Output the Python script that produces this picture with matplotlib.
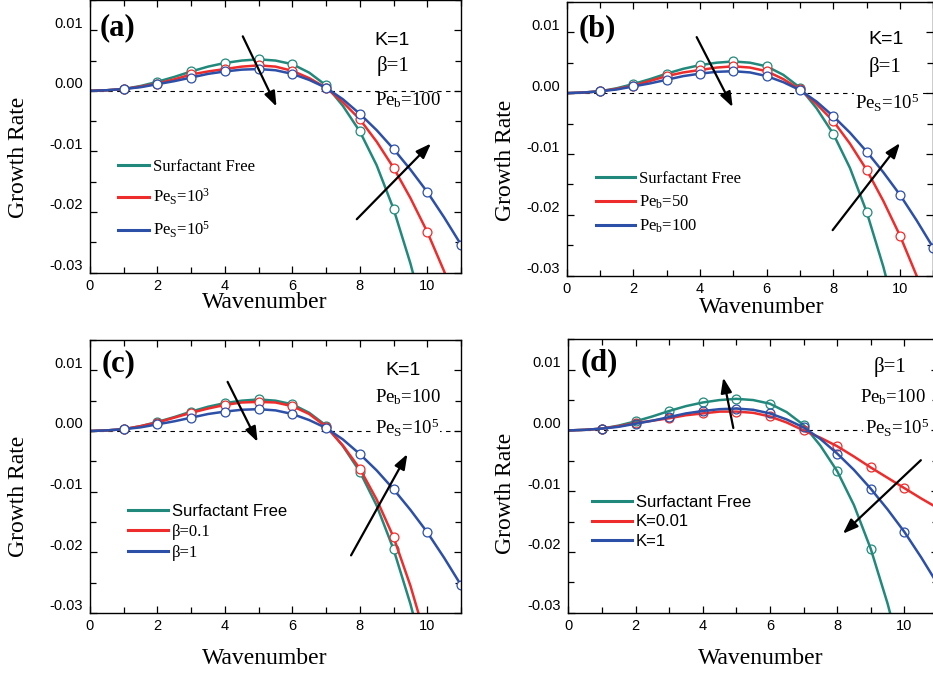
import numpy as np
import matplotlib.pyplot as plt
from matplotlib.lines import Line2D
from matplotlib.ticker import MultipleLocator
from matplotlib.transforms import ScaledTranslation

plt.rcParams['font.family'] = 'Liberation Sans'
plt.rcParams['mathtext.default'] = 'regular'

SERIF = 'Liberation Serif'
SANS = 'Liberation Sans'

# wavenumber grid (values every 0.5)
k = [0, 0.5, 1, 1.5, 2, 2.5, 3, 3.5, 4, 4.5, 5, 5.5, 6, 6.5, 7, 7.5, 8, 8.5,
     9, 9.5, 10, 10.5, 11]

# surfactant free (same in every panel)
free = [0, 0.0001, 0.0003, 0.0008, 0.0015, 0.0023, 0.0032, 0.0040, 0.0046,
        0.0050, 0.0052, 0.0050, 0.0044, 0.0030, 0.0009, -0.0025, -0.0067,
        -0.0123, -0.0195, -0.0285, -0.0390, -0.0510, -0.0640]
# K=1, beta=1, Pe_b=100, Pe_s=1e5 (same in every panel)
base = [0, 0.0001, 0.0003, 0.0006, 0.0011, 0.0016, 0.0022, 0.0028, 0.0032,
        0.0035, 0.0036, 0.0034, 0.0028, 0.0018, 0.0005, -0.0014, -0.0038,
        -0.0065, -0.0096, -0.0130, -0.0167, -0.0209, -0.0254]
# (a) Pe_s = 1e3
red_a = [0, 0.0001, 0.0003, 0.0007, 0.0012, 0.0019, 0.0027, 0.0032, 0.0036,
         0.0040, 0.0042, 0.0040, 0.0033, 0.0021, 0.0005, -0.0019, -0.0047,
         -0.0084, -0.0127, -0.0177, -0.0233, -0.0298, -0.0370]
# (b) Pe_b = 50
red_b = [0, 0.0001, 0.0003, 0.0007, 0.0012, 0.0020, 0.0028, 0.0034, 0.0038,
         0.0042, 0.0044, 0.0042, 0.0036, 0.0023, 0.0006, -0.0018, -0.0046,
         -0.0083, -0.0126, -0.0177, -0.0234, -0.0300, -0.0372]
# (c) beta = 0.1
red_c = [0, 0.0001, 0.0003, 0.0008, 0.0014, 0.0022, 0.0030, 0.0037, 0.0043,
         0.0047, 0.0048, 0.0047, 0.0041, 0.0028, 0.0007, -0.0024, -0.0062,
         -0.0113, -0.0175, -0.0255, -0.0350, -0.0460, -0.0580]
# (d) K = 0.01
red_d = [0, 0.0001, 0.0003, 0.0007, 0.0012, 0.0016, 0.0020, 0.0025, 0.0028,
         0.0031, 0.0031, 0.0029, 0.0023, 0.0013, 0.0000, -0.0012, -0.0026,
         -0.0043, -0.0061, -0.0078, -0.0095, -0.0112, -0.0128]

yticks = [-0.03, -0.02, -0.01, 0.0, 0.01]
ytick_labels = ['-0.03', '-0.02', '-0.01', '0.00', '0.01']
xticks = [0, 2, 4, 6, 8, 10]

TEAL = '#21897b'
RED = '#ee2c2c'
BLUE = '#2c4fa8'

W, H = 933, 674
fig = plt.figure(figsize=(W / 100, H / 100), dpi=100)


def px_axes(l, t, r, b):
    return fig.add_axes([l / W, 1 - b / H, (r - l) / W, (b - t) / H])


def draw_panel(ax, red, tag, labels, leg_fonts, leg_xy, leg_opts, notes,
               arrows, xlab_xy, ylab_xy, filled=True):
    mfc = 'white' if filled else 'none'
    for y, c in [(free, TEAL), (red, RED), (base, BLUE)]:
        ax.plot(k, y, color=c, lw=1.8, marker='o', markevery=slice(2, None, 2),
                ms=6.4, mfc=mfc, mec=c, mew=0.9)
    ax.axhline(0, color='k', lw=0.8, ls=(0, (4, 4)), zorder=1)

    ax.set_xlim(0, 11)
    ax.set_ylim(-0.03, 0.015)
    ax.set_xticks(xticks)
    ax.set_yticks(yticks)
    ax.set_yticklabels(ytick_labels)
    ax.xaxis.set_minor_locator(MultipleLocator(1))
    ax.yaxis.set_minor_locator(MultipleLocator(0.005))
    ax.tick_params(which='both', direction='in', top=True, right=True,
                   labelsize=10.5, width=0.9)
    ax.tick_params(which='major', length=5)
    ax.tick_params(which='minor', length=4)
    ax.tick_params(axis='y', pad=5)
    ax.tick_params(axis='x', pad=4.5)
    for s in ax.spines.values():
        s.set_linewidth(1.0)
    off = ScaledTranslation(0, 8 / 100, fig.dpi_scale_trans)
    for lab in ax.get_yticklabels():
        lab.set_transform(lab.get_transform() + off)

    ax.set_xlabel('Wavenumber', fontfamily=SERIF, fontsize=17)
    ax.set_ylabel('Growth Rate', fontfamily=SERIF, fontsize=17)
    ax.xaxis.label.set_va('center')
    ax.yaxis.label.set_va('center')
    ax.xaxis.set_label_coords(*xlab_xy)
    ax.yaxis.set_label_coords(*ylab_xy)

    ax.text(tag[1], tag[2], tag[0], transform=ax.transAxes, fontfamily=SERIF,
            fontweight='bold', fontsize=22, ha='center', va='center')

    handles = [Line2D([], [], color=c, lw=2.2) for c in (TEAL, RED, BLUE)]
    leg = ax.legend(handles, labels, loc='center left', bbox_to_anchor=leg_xy,
                    frameon=False, borderpad=0, borderaxespad=0,
                    prop={'family': SERIF, 'size': 12}, **leg_opts)
    for t, f in zip(leg.get_texts(), leg_fonts):
        t.set_fontfamily(f)

    for x, y, s, fam, size, boxed in notes:
        kw = {}
        if boxed:
            kw['bbox'] = dict(facecolor='white', edgecolor='none', pad=1)
        ax.text(x, y, s, transform=ax.transAxes, fontfamily=fam,
                fontsize=size, ha='center', va='center', **kw)

    for (x0, y0), (x1, y1) in arrows:
        ax.annotate('', xy=(x1, y1), xytext=(x0, y0),
                    arrowprops=dict(arrowstyle='-|>,head_length=0.6,head_width=0.22',
                                    color='k', lw=1.6, mutation_scale=15,
                                    shrinkA=0, shrinkB=0))


ax_a = px_axes(90, 0, 461, 272.5)
ax_b = px_axes(566.7, 1.8, 933.3, 275.8)
ax_c = px_axes(90, 340, 461, 613)
ax_d = px_axes(568.3, 339.3, 938, 612.7)

draw_panel(ax_a, red_a, ('(a)', 0.075, 0.899),
           ['Surfactant Free', '$Pe_S$=$10^3$', '$Pe_S$=$10^5$'],
           [SERIF, SERIF, SERIF], (0.075, 0.268),
           dict(handlelength=1.9, handletextpad=0.2, labelspacing=0.75),
           [(0.814, 0.853, 'K=1', SANS, 14, False),
            (0.817, 0.758, 'β=1', SERIF, 15, False),
            (0.856, 0.633, '$Pe_b$=100', SERIF, 13.5, False)],
           [((4.53, 0.0090), (5.53, -0.0026)), ((7.91, -0.0212), (10.11, -0.0087))],
           (0.472, -0.11), (-0.193, 0.424))

draw_panel(ax_b, red_b, ('(b)', 0.084, 0.903),
           ['Surfactant Free', '$Pe_b$=50', '$Pe_b$=100'],
           [SERIF, SERIF, SERIF], (0.080, 0.266),
           dict(handlelength=2.35, handletextpad=0.25, labelspacing=0.42),
           [(0.870, 0.861, 'K=1', SANS, 14, False),
            (0.868, 0.763, 'β=1', SERIF, 15, False),
            (0.875, 0.632, '$Pe_S$=$10^5$', SERIF, 13.5, True)],
           [((3.90, 0.0092), (4.98, -0.0023)), ((7.98, -0.0225), (10.0, -0.0082))],
           (0.532, -0.115), (-0.168, 0.42))

draw_panel(ax_c, red_c, ('(c)', 0.078, 0.912),
           ['Surfactant Free', 'β=0.1', 'β=1'],
           [SANS, SERIF, SERIF], (0.102, 0.294),
           dict(handlelength=2.4, handletextpad=0.25, labelspacing=0.3),
           [(0.845, 0.890, 'K=1', SANS, 14, False),
            (0.856, 0.792, '$Pe_b$=100', SERIF, 13.5, False),
            (0.854, 0.677, '$Pe_S$=$10^5$', SERIF, 13.5, True)],
           [((4.08, 0.0081), (4.97, -0.0018)), ((7.74, -0.0205), (9.41, -0.0038))],
           (0.472, -0.165), (-0.193, 0.429))

draw_panel(ax_d, red_d, ('(d)', 0.083, 0.916),
           ['Surfactant Free', 'K=0.01', 'K=1'],
           [SANS, SANS, SANS], (0.063, 0.332),
           dict(handlelength=2.4, handletextpad=0.25, labelspacing=0.27),
           [(0.870, 0.900, 'β=1', SERIF, 15, False),
            (0.879, 0.790, '$Pe_b$=100', SERIF, 13.5, False),
            (0.888, 0.674, '$Pe_S$=$10^5$', SERIF, 13.5, True)],
           [((4.91, 0.0004), (4.61, 0.0087)), ((10.49, -0.0049), (8.17, -0.0170))],
           (0.521, -0.166), (-0.171, 0.437), filled=False)

fig.savefig('out.png', dpi=100)
